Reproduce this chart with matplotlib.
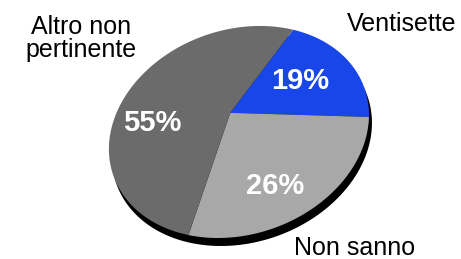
import numpy as np
import matplotlib.pyplot as plt
from matplotlib.patches import Polygon

plt.rcParams["font.family"] = ["Liberation Sans", "DejaVu Sans"]

# dati
labels = ["Ventisette", "Non sanno", "Altro non\npertinente"]
values = [19, 26, 55]
colors = ["#1846e8", "#a8a8a8", "#6b6b6b"]


#%%
# prospettiva del disco (cerchio unitario -> pixel), calibrata a occhio
fracs = np.array(values)/np.sum(values)
bounds = 90.0-360*np.concatenate([[0.0], np.cumsum(fracs)])

anchors_src = np.array([[0.0, 0.0]] +
                       [[np.cos(np.radians(a)), np.sin(np.radians(a))] for a in bounds[:3]])
anchors_dst = np.array([[230.0, 113.0], [293.0, 31.0], [368.0, 117.0], [189.0, 233.0]])
rim = np.array([[250, 27], [190, 40], [147, 70], [123, 103], [110, 140], [115, 180],
                [130, 207], [153, 227], [225, 234], [263, 232], [307, 213],
                [348, 180], [365, 140], [363, 87], [343, 53]], dtype=float)


def to_H(h):
    return np.append(h, 1.0).reshape(3, 3)


def residuals(h):
    H = to_H(h)
    res = []
    for (x, y), (u, v) in zip(anchors_src, anchors_dst):
        p = H @ np.array([x, y, 1.0])
        res += [p[0]/p[2]-u, p[1]/p[2]-v]
    Hi = np.linalg.inv(H)
    for u, v in rim:
        q = Hi @ np.array([u, v, 1.0])
        res.append((np.hypot(q[0]/q[2], q[1]/q[2])-1.0)*110)
    return np.array(res)


# partenza: omografia esatta sui 4 punti
A = []
b = []
for (x, y), (u, v) in zip(anchors_src, anchors_dst):
    A.append([x, y, 1, 0, 0, 0, -u*x, -u*y])
    b.append(u)
    A.append([0, 0, 0, x, y, 1, -v*x, -v*y])
    b.append(v)
h = np.linalg.solve(np.array(A), np.array(b))

# Levenberg-Marquardt
lam = 1e-2
r = residuals(h)
for it in range(200):
    J = np.zeros((len(r), 8))
    for k in range(8):
        eps = 1e-6*max(1.0, abs(h[k]))
        hk = h.copy()
        hk[k] += eps
        J[:, k] = (residuals(hk)-r)/eps
    JTJ = J.T @ J
    step = np.linalg.solve(JTJ+lam*np.diag(np.diag(JTJ)), -J.T @ r)
    r_new = residuals(h+step)
    if np.sum(r_new**2) < np.sum(r**2):
        h = h+step
        r = r_new
        lam *= 0.3
    else:
        lam *= 5
H = to_H(h)


def project(x, y):
    p = H @ np.vstack([x, y, np.ones_like(x)])
    return p[0]/p[2], p[1]/p[2]


#%%
fig = plt.figure(figsize=(4.61, 2.59), dpi=100)
ax = fig.add_axes([0, 0, 1, 1])
ax.set_xlim(0, 461)
ax.set_ylim(259, 0)
ax.axis("off")

# ombra
t = np.linspace(0, 2*np.pi, 300)
ox, oy = project(np.cos(t), np.sin(t))
ax.add_patch(Polygon(np.column_stack([ox+3, oy+8]), closed=True,
                     facecolor="black", edgecolor="none"))

# spicchi in senso orario
label_r = [0.6, 0.74, 0.64]
label_shift = [0, -7, 24]
for i in range(len(values)):
    a = np.radians(np.linspace(bounds[i], bounds[i+1], 120))
    xs = np.concatenate([[0.0], np.cos(a)])
    ys = np.concatenate([[0.0], np.sin(a)])
    px, py = project(xs, ys)
    ax.add_patch(Polygon(np.column_stack([px, py]), closed=True,
                         facecolor=colors[i], edgecolor="none"))
    mid = np.radians((bounds[i]+bounds[i+1])/2+label_shift[i])
    lx, ly = project(np.array([label_r[i]*np.cos(mid)]),
                     np.array([label_r[i]*np.sin(mid)]))
    ax.text(lx[0], ly[0], f"{values[i]}%", color="white", fontsize=21,
            fontweight="bold", ha="center", va="center")

ax.text(402, 31, labels[0], fontsize=18, ha="center", va="baseline")
ax.text(355, 255, labels[1], fontsize=18, ha="center", va="baseline")
ax.text(81, 57, labels[2], fontsize=18, ha="center", va="baseline",
        multialignment="center", linespacing=0.95)

fig.savefig("out.png", dpi=100)
